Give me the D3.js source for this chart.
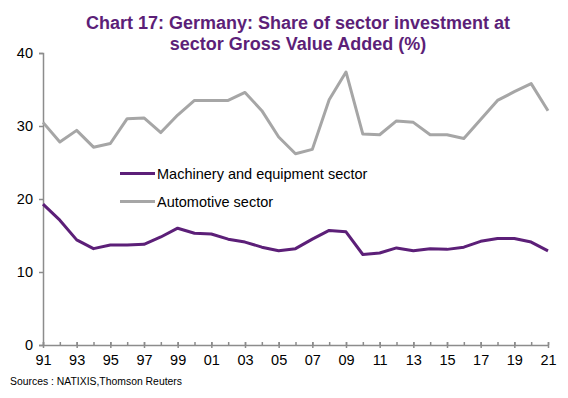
<!DOCTYPE html>
<html>
<head>
<meta charset="utf-8">
<script src="https://cdn.jsdelivr.net/npm/d3@7"></script>
<style>
  body { margin: 0; background: #fff; }
  svg { display: block; font-family: "Liberation Sans", Arial, sans-serif; }
</style>
</head>
<body>
<svg width="568" height="398"></svg>
<script>
// years 1991..2021
var years = d3.range(1991, 2022);
var machinery = [19.3, 17.1, 14.4, 13.2, 13.7, 13.7, 13.8, 14.8, 16.0, 15.3,
  15.2, 14.5, 14.1, 13.4, 12.9, 13.2, 14.5, 15.7, 15.5, 12.4,
  12.6, 13.3, 12.9, 13.2, 13.1, 13.4, 14.2, 14.6, 14.6, 14.1, 12.9];
var automotive = [30.5, 27.8, 29.4, 27.1, 27.6, 31.0, 31.1, 29.1, 31.5, 33.5,
  33.5, 33.5, 34.6, 32.1, 28.5, 26.2, 26.8, 33.6, 37.4, 28.9,
  28.8, 30.7, 30.5, 28.8, 28.8, 28.3, 30.9, 33.5, 34.7, 35.8, 32.1];
var yTicks = [0, 10, 20, 30, 40];
var seriesNames = ["Machinery and equipment sector", "Automotive sector"];
var seriesColors = ["#5C1F78", "#A6A6A6"];

var svg = d3.select("svg");
var x = d3.scaleLinear().domain([1991, 2021]).range([43, 548]);
var y = d3.scaleLinear().domain([0, 40]).range([345, 53]);

// title
var title = svg.append("text")
    .attr("text-anchor", "middle")
    .attr("fill", "#5C1F78")
    .attr("font-weight", "bold")
    .attr("font-size", 18);
title.append("tspan").attr("x", 298).attr("y", 29).text("Chart 17: Germany: Share of sector investment at");
title.append("tspan").attr("x", 298).attr("y", 50).text("sector Gross Value Added (%)");

// y axis
var yAxis = svg.append("g")
    .attr("transform", "translate(43,0)")
    .call(d3.axisLeft(y).tickValues(yTicks).tickSize(4).tickPadding(6).tickFormat(d3.format("d")));
yAxis.select(".domain").attr("stroke", "#8C8C8C").attr("stroke-width", 1.5);
yAxis.selectAll(".tick line").attr("stroke", "#8C8C8C").attr("stroke-width", 1.5);
yAxis.selectAll("text").attr("font-size", 14.5).attr("fill", "#000").attr("font-family", "Liberation Sans, Arial, sans-serif");

// x axis: minor ticks every year (up), major every two years (across)
var minor = svg.append("g")
    .attr("transform", "translate(0,345)")
    .call(d3.axisTop(x).tickValues(years).tickSize(3).tickFormat(""));
minor.select(".domain").remove();
minor.selectAll(".tick line").attr("stroke", "#8C8C8C").attr("stroke-width", 1.5);

var xAxis = svg.append("g")
    .attr("transform", "translate(0,345)")
    .call(d3.axisBottom(x).tickValues(years.filter(function(d, i) { return i % 2 === 0; }))
      .tickSize(3).tickPadding(7).tickSizeOuter(0)
      .tickFormat(function(d) { return d3.format("02d")(d % 100); }));
xAxis.select(".domain").attr("stroke", "#8C8C8C").attr("stroke-width", 1.5);
xAxis.selectAll(".tick line").attr("stroke", "#8C8C8C").attr("stroke-width", 1.5).attr("y1", -3);
xAxis.selectAll("text").attr("font-size", 14.5).attr("fill", "#000").attr("font-family", "Liberation Sans, Arial, sans-serif");

// lines
var line = d3.line()
    .x(function(d, i) { return x(years[i]); })
    .y(function(d) { return y(d); });

[automotive, machinery].forEach(function(s, k) {
  svg.append("path")
      .datum(s)
      .attr("fill", "none")
      .attr("stroke", k === 0 ? seriesColors[1] : seriesColors[0])
      .attr("stroke-width", 3)
      .attr("stroke-linejoin", "round")
      .attr("d", line);
});

// legend
var legend = svg.append("g").selectAll("g")
    .data(seriesNames)
    .enter().append("g")
      .attr("transform", function(d, i) { return "translate(120," + (173.5 + i * 28) + ")"; });
legend.append("line")
    .attr("x2", 35)
    .attr("stroke", function(d, i) { return seriesColors[i]; })
    .attr("stroke-width", 3);
legend.append("text")
    .attr("x", 37)
    .attr("dy", "0.35em")
    .attr("font-size", 14.5)
    .text(function(d) { return d; });

// source
svg.append("text")
    .attr("x", 10)
    .attr("y", 385)
    .attr("font-size", 10)
    .attr("textLength", 172)
    .attr("lengthAdjust", "spacingAndGlyphs")
    .text("Sources : NATIXIS,Thomson Reuters");
</script>
</body>
</html>
